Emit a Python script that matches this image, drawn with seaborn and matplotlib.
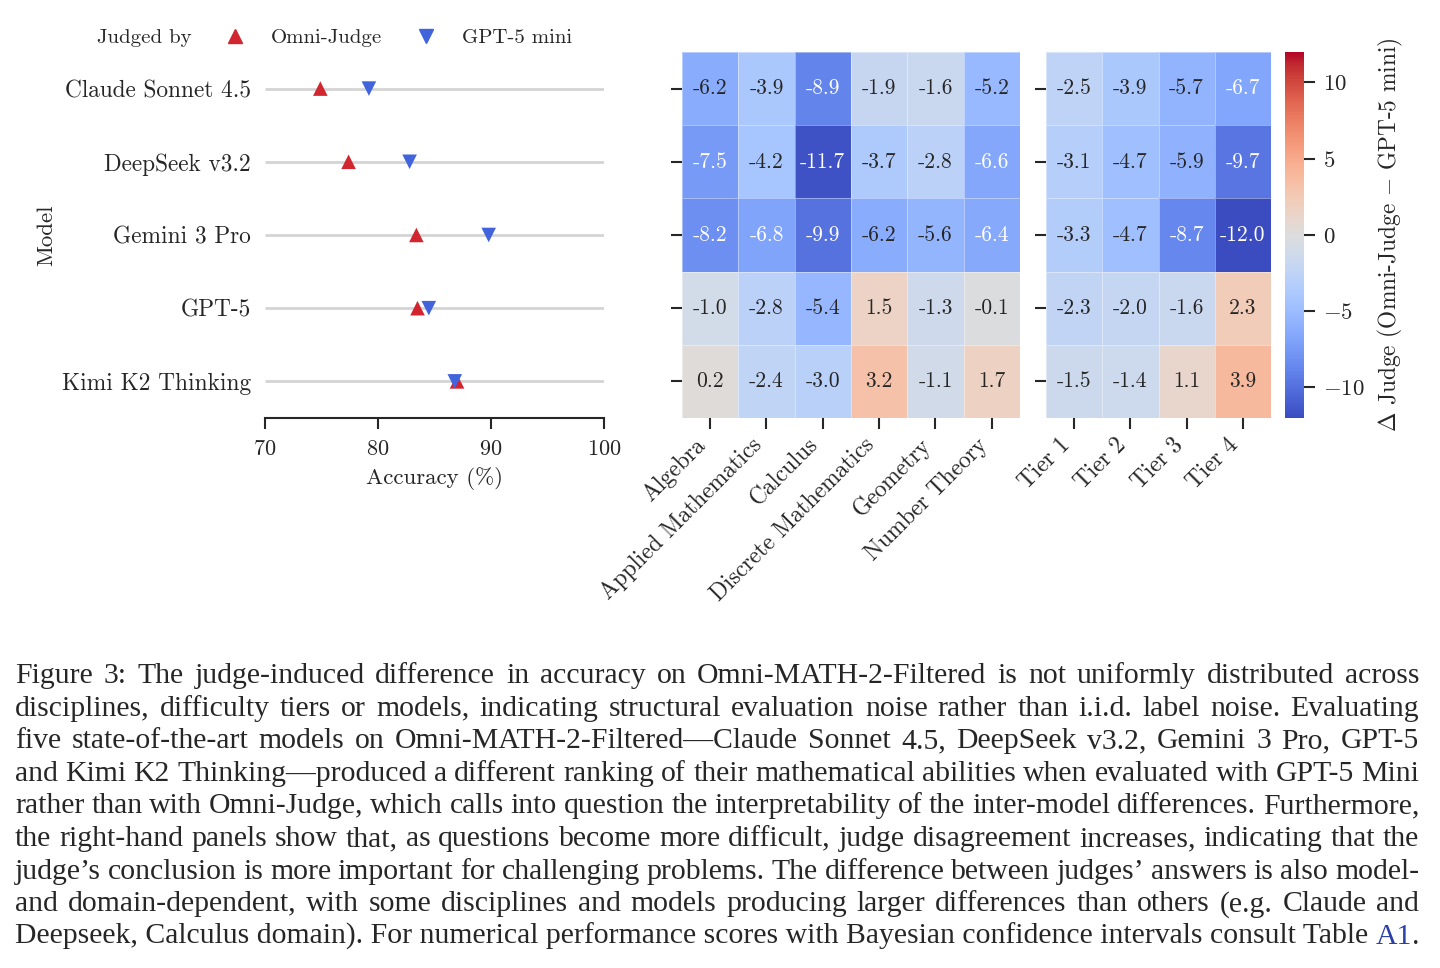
import numpy as np
import pandas as pd
import matplotlib
matplotlib.use('Agg')
import matplotlib.pyplot as plt
from matplotlib.lines import Line2D
import seaborn as sns

# data
models = ['Claude Sonnet 4.5', 'DeepSeek v3.2', 'Gemini 3 Pro', 'GPT-5', 'Kimi K2 Thinking']
acc_omni = [74.9, 77.4, 83.4, 83.5, 87.0]
acc_gpt = [79.2, 82.8, 89.8, 84.5, 86.8]

disciplines = ['Algebra', 'Applied Mathematics', 'Calculus', 'Discrete Mathematics',
               'Geometry', 'Number Theory']
diff_disc = [
    [-6.2, -3.9, -8.9, -1.9, -1.6, -5.2],
    [-7.5, -4.2, -11.7, -3.7, -2.8, -6.6],
    [-8.2, -6.8, -9.9, -6.2, -5.6, -6.4],
    [-1.0, -2.8, -5.4, 1.5, -1.3, -0.1],
    [0.2, -2.4, -3.0, 3.2, -1.1, 1.7],
]
tiers = ['Tier 1', 'Tier 2', 'Tier 3', 'Tier 4']
diff_tier = [
    [-2.5, -3.9, -5.7, -6.7],
    [-3.1, -4.7, -5.9, -9.7],
    [-3.3, -4.7, -8.7, -12.0],
    [-2.3, -2.0, -1.6, 2.3],
    [-1.5, -1.4, 1.1, 3.9],
]

caption = [
    "Figure 3: The judge-induced difference in accuracy on Omni-MATH-2-Filtered is not uniformly distributed across",
    "disciplines, difficulty tiers or models, indicating structural evaluation noise rather than i.i.d. label noise. Evaluating",
    "five state-of-the-art models on Omni-MATH-2-Filtered\u2014Claude Sonnet 4.5, DeepSeek v3.2, Gemini 3 Pro, GPT-5",
    "and Kimi K2 Thinking\u2014produced a different ranking of their mathematical abilities when evaluated with GPT-5 Mini",
    "rather than with Omni-Judge, which calls into question the interpretability of the inter-model differences. Furthermore,",
    "the right-hand panels show that, as questions become more difficult, judge disagreement increases, indicating that the",
    "judge\u2019s conclusion is more important for challenging problems. The difference between judges\u2019 answers is also model-",
    "and domain-dependent, with some disciplines and models producing larger differences than others (e.g. Claude and",
    "Deepseek, Calculus domain). For numerical performance scores with Bayesian confidence intervals consult Table",
]

sns.set_style('ticks')
plt.rcParams['font.family'] = ['cmr10', 'DejaVu Serif']
plt.rcParams['mathtext.fontset'] = 'cm'
plt.rcParams['axes.formatter.use_mathtext'] = True
plt.rcParams['axes.unicode_minus'] = True

RED = '#d1262f'
BLUE = '#4163dc'
W, H = 1440, 968

fig = plt.figure(figsize=(14.4, 9.68), dpi=100)
ax = fig.add_axes([0.184, 0.5682, 0.2354, 0.3781])
hm1 = fig.add_axes([0.4736, 0.5682, 0.2347, 0.3781])
hm2 = fig.add_axes([0.7264, 0.5682, 0.15625, 0.3781])
cax = fig.add_axes([0.8924, 0.5682, 0.0132, 0.3781])

# left panel: accuracy per model and judge
df = pd.DataFrame({
    'Model': models * 2,
    'Accuracy': acc_omni + acc_gpt,
    'Judge': ['Omni-Judge'] * len(models) + ['GPT-5 mini'] * len(models),
})
ax.hlines(range(len(models)), 70, 100, color='#d4d4d4', lw=2, zorder=1)
sns.scatterplot(data=df, x='Accuracy', y='Model', hue='Judge', style='Judge',
                markers={'Omni-Judge': '^', 'GPT-5 mini': 'v'},
                palette={'Omni-Judge': RED, 'GPT-5 mini': BLUE},
                s=110, linewidth=0, ax=ax, legend=False, zorder=3)
ax.set_xlim(70, 100)
ax.set_ylim(len(models) - 0.5, -0.5)
ax.set_xticks([70, 80, 90, 100])
ax.set_xlabel('Accuracy (%)', fontsize=16.5, labelpad=6)
ax.set_ylabel('Model', fontsize=16.5, labelpad=4)
ax.tick_params(axis='x', labelsize=16, length=8, width=1.5, pad=7.5)
ax.tick_params(axis='y', labelsize=16.8, length=0, pad=10)
for s in ['top', 'right', 'left']:
    ax.spines[s].set_visible(False)
ax.spines['bottom'].set_linewidth(1.5)

handles = [Line2D([], [], linestyle='none'),
           Line2D([], [], marker='^', color=RED, linestyle='none', markersize=10),
           Line2D([], [], marker='v', color=BLUE, linestyle='none', markersize=10)]
fig.legend(handles, ['Judged by', 'Omni-Judge', 'GPT-5 mini'], ncol=3, frameon=False,
           loc='center left', bbox_to_anchor=(0.0185, 0.961), fontsize=15,
           handletextpad=0.96, columnspacing=1.37, handlelength=1.5)

# heatmaps
kw = dict(cmap='coolwarm', vmin=-12, vmax=12, annot=True, fmt='.1f',
          annot_kws={'fontsize': 15.5}, linewidths=0.5, linecolor=(1, 1, 1, 0.4))
sns.heatmap(pd.DataFrame(diff_disc, index=models, columns=disciplines), ax=hm1, cbar=False, **kw)
sns.heatmap(pd.DataFrame(diff_tier, index=models, columns=tiers), ax=hm2, cbar_ax=cax, **kw)

for h in (hm1, hm2):
    h.set_yticklabels([])
    h.set_ylabel('')
    h.tick_params(axis='y', length=8, width=1.5, left=True)
    h.tick_params(axis='x', length=8, width=1.5, labelsize=16.8)
    for lab in h.get_xticklabels():
        lab.set_rotation(45)
        lab.set_ha('right')

cax.tick_params(labelsize=16.5, length=8, width=1.5, pad=5.5)
cax.set_yticks([-10, -5, 0, 5, 10])
cax.set_ylabel(r'$\Delta$ Judge (Omni-Judge $-$ GPT-5 mini)', fontsize=16.8, labelpad=8)
for s in cax.spines.values():
    s.set_visible(False)

# caption, justified line by line
cap_kw = dict(fontsize=21.4, family='Liberation Serif', va='baseline', ha='left')
x_left, x_right = 15, 1419
y0, dy = 683, 32.6
fig.canvas.draw()
rend = fig.canvas.get_renderer()
for i, line in enumerate(caption):
    yb = 1 - (y0 + i * dy) / H
    words = line.split(' ')
    if i == len(caption) - 1:
        t = fig.text(x_left / W, yb, line, **cap_kw)
        sp = fig.text(0, yb, 'a a', **cap_kw).get_window_extent(rend).width - \
            2 * fig.text(0, yb, 'a', alpha=0, **cap_kw).get_window_extent(rend).width
        fig.texts[-2].remove()
        fig.texts[-1].remove()
        bb = t.get_window_extent(rend)
        t2 = fig.text((bb.x1 + sp) / W, yb, 'A1', color='#2a3fa8', **cap_kw)
        bb2 = t2.get_window_extent(rend)
        fig.text(bb2.x1 / W, yb, '.', **cap_kw)
        continue
    objs = [fig.text(0, yb, w, **cap_kw) for w in words]
    widths = [o.get_window_extent(rend).width for o in objs]
    gap = (x_right - x_left - sum(widths)) / (len(words) - 1)
    x = x_left
    for o, wd in zip(objs, widths):
        o.set_x(x / W)
        x += wd + gap

fig.savefig('out.png', dpi=100)
